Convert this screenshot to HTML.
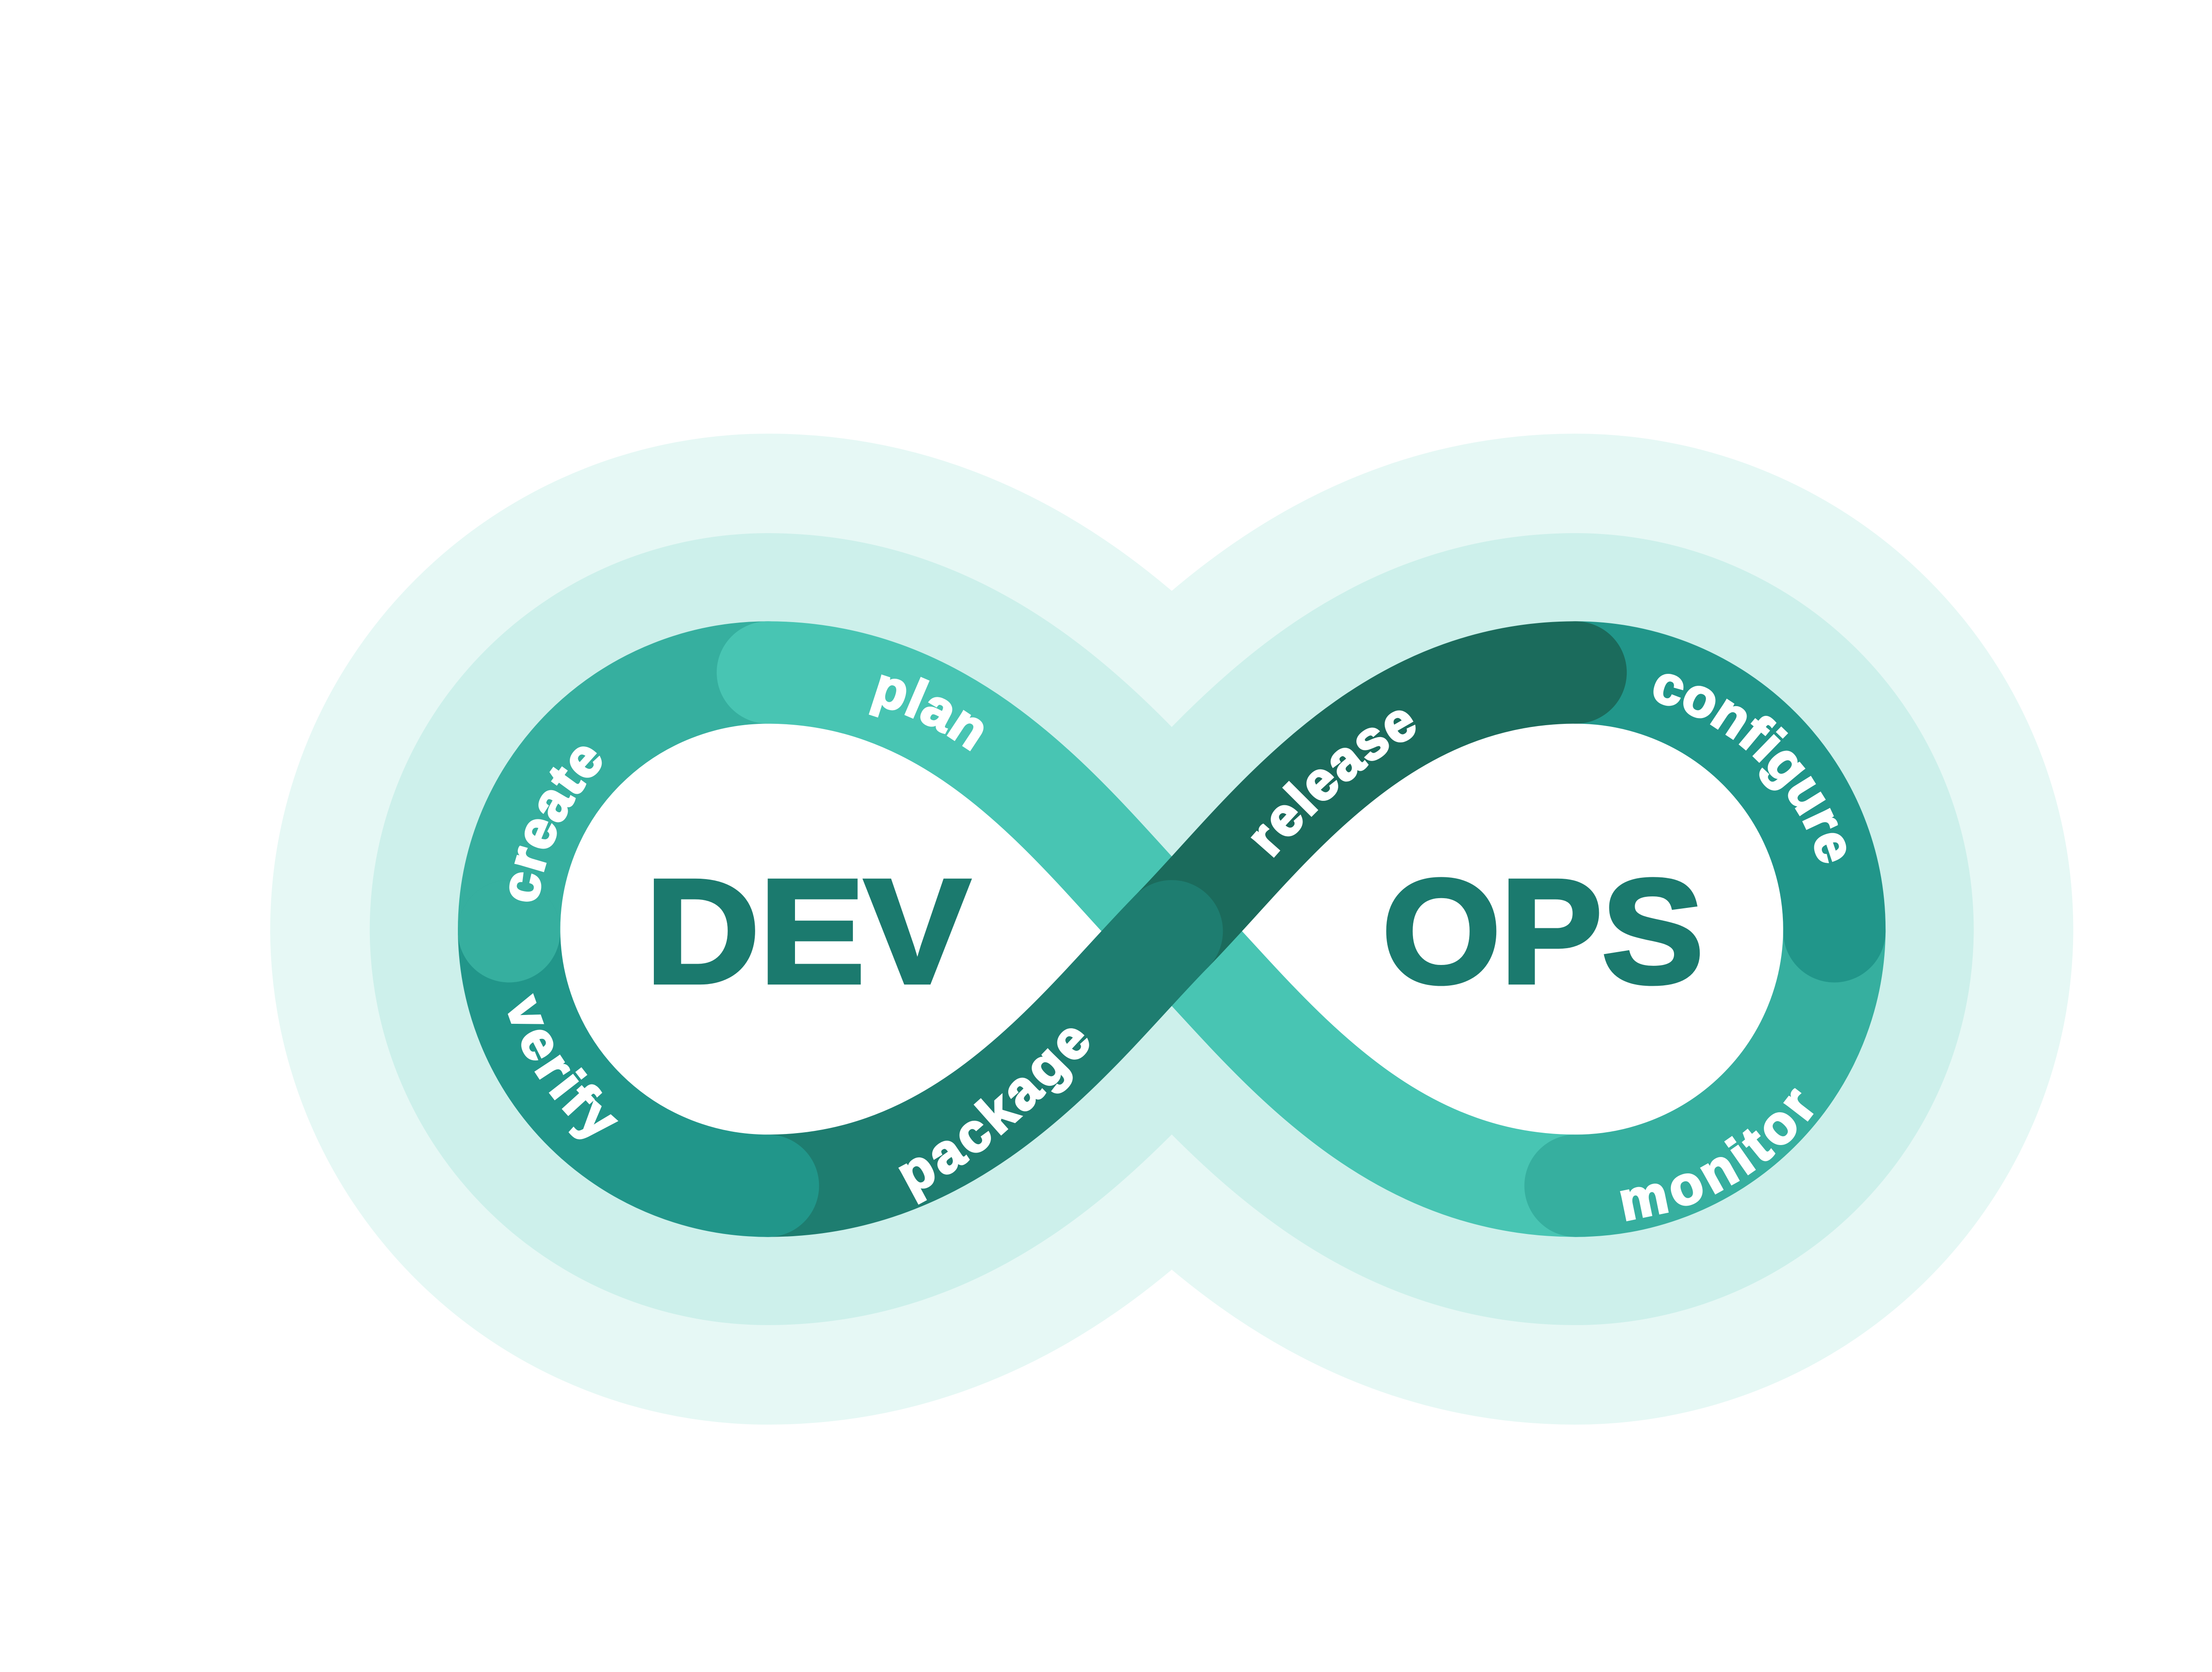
<!DOCTYPE html>
<html><head><meta charset="utf-8"><style>html,body{margin:0;padding:0;background:#fff;}svg{display:block}</style></head>
<body>
<svg width="5040" height="3779" viewBox="0 0 1568 1176" preserveAspectRatio="none" xmlns="http://www.w3.org/2000/svg">
<defs>
<path id="inf" d="M540,473 C680,473 760,590 824,655 C888,720 968,834 1108,834 A182,181 0 0 0 1290,655 A182,181 0 0 0 1108,473 C968,473 888,590 824,655 C760,720 680,834 540,834 A182,181 0 0 1 358,655 A182,181 0 0 1 540,473 Z"/>
<path id="tCreate" d="M364,640 A182,181 0 0 1 540,473"/>
<path id="tPlan" d="M610,480 C700,500 760,580 824,655"/>
<path id="tRelease" d="M880,600 C940,530 1000,478 1108,473"/>
<path id="tConfigure" d="M1160,478 A182,181 0 0 1 1300,660"/>
<path id="tMonitor" d="M1135,845 A182,181 0 0 0 1300,690"/>
<path id="tPackage" d="M630,830 C700,800 760,720 824,655"/>
<path id="tVerify" d="M368,700 A182,181 0 0 0 480,822"/>
</defs>
<rect width="1568" height="1176" fill="#fff"/>
<use href="#inf" fill="none" stroke="#e6f8f5" stroke-width="336" stroke-linejoin="round"/>
<use href="#inf" fill="none" stroke="#cdf0eb" stroke-width="196" stroke-linejoin="round"/>
<use href="#inf" fill="#fff" stroke="none"/>
<g fill="none" stroke-width="72" stroke-linecap="round">
<path d="M358,655 A182,181 0 0 1 540,473" stroke="#36af9f"/>
<path d="M540,473 C680,473 760,590 824,655 C888,720 968,834 1108,834" stroke="#48c5b3"/>
<path d="M1108,834 A182,181 0 0 0 1290,655" stroke="#36af9f"/>
<path d="M1290,655 A182,181 0 0 0 1108,473" stroke="#21968a"/>
<path d="M1108,473 C968,473 888,590 824,655" stroke="#1b6b5c"/>
<path d="M824,655 C760,720 680,834 540,834" stroke="#1e7d70"/>
<path d="M540,834 A182,181 0 0 1 358,655" stroke="#21968a"/>
</g>
<circle cx="358" cy="655" r="36" fill="#36af9f"/>
<g font-family="Liberation Sans, Arial, sans-serif" font-weight="bold" font-size="38" fill="#fff" stroke="#fff" stroke-width="1.6" letter-spacing="2" dominant-baseline="central">
<text><textPath href="#tCreate" startOffset="6">create</textPath></text>
<text><textPath href="#tPlan" startOffset="6">plan</textPath></text>
<text><textPath href="#tRelease" startOffset="6">release</textPath></text>
<text><textPath href="#tConfigure" startOffset="4">configure</textPath></text>
<text><textPath href="#tMonitor" startOffset="4">monitor</textPath></text>
<text><textPath href="#tPackage" startOffset="4">package</textPath></text>
<text><textPath href="#tVerify" startOffset="2">verify</textPath></text>
</g>
<g font-family="Liberation Sans, Arial, sans-serif" font-weight="bold" font-size="104" fill="#1b7a6e" stroke="#1b7a6e" stroke-width="3">
<text x="568" y="691" text-anchor="middle" textLength="228" lengthAdjust="spacingAndGlyphs">DEV</text>
<text x="1085" y="691" text-anchor="middle" textLength="226" lengthAdjust="spacingAndGlyphs">OPS</text>
</g>
</svg>
</body></html>
